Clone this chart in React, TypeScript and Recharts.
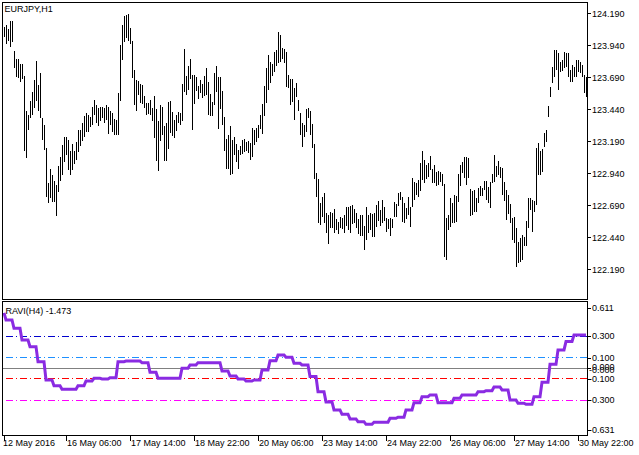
import React from 'react';
import { ComposedChart, Bar, Line, XAxis, YAxis, ReferenceLine } from 'recharts';

const FONT = '"Liberation Sans", Arial, sans-serif';

const symbolLabel = 'EURJPY,H1';
const indicatorLabel = 'RAVI(H4) -1.473';

// EURJPY H1 bar highs (12 May 2016 23:00 onward)
const highs = [
  124.084, 124.100, 124.069, 124.131, 124.131, 123.896, 123.834, 123.834, 123.795, 123.795,
  123.701, 123.428, 123.397, 123.506, 123.576, 123.670, 123.818, 123.631, 123.725, 123.373,
  123.319, 123.138, 122.866, 122.975, 122.928, 122.881, 122.850, 122.998, 123.068, 123.162,
  123.224, 123.224, 123.201, 123.115, 123.170, 123.115, 123.185, 123.279, 123.279, 123.335,
  123.389, 123.412, 123.397, 123.381, 123.459, 123.514, 123.475, 123.451, 123.459, 123.459,
  123.451, 123.475, 123.459, 123.428, 123.412, 123.366, 123.358, 123.569, 123.944, 124.100,
  124.170, 124.178, 124.186, 124.076, 123.975, 123.748, 123.670, 123.662, 123.639, 123.631,
  123.545, 123.491,
  123.491, 123.514, 123.451, 123.545, 123.444, 123.350, 123.475, 123.459, 123.311, 123.335,
  123.498, 123.506, 123.420, 123.358, 123.397, 123.420, 123.412, 123.639, 123.912, 123.701,
  123.779, 123.834, 123.709, 123.709, 123.693, 123.623, 123.670, 123.639, 123.701, 123.764,
  123.654, 123.561, 123.498, 123.725, 123.779, 123.693, 123.693, 123.584, 123.381, 123.209,
  123.240, 123.311, 123.201, 123.224, 123.170, 123.123, 123.154, 123.201, 123.209, 123.185,
  123.193, 123.178, 123.295, 123.279, 123.295, 123.319, 123.397, 123.483, 123.623, 123.764,
  123.865, 123.811, 123.795, 123.889, 123.904, 124.045, 124.022, 123.920, 123.912, 123.889,
  123.709, 123.678, 123.678, 123.608, 123.647,
  123.514, 123.412, 123.335, 123.319, 123.444, 123.451, 123.428, 123.326, 123.170, 122.943,
  122.897, 122.709, 122.756, 122.787, 122.631, 122.615, 122.639, 122.631, 122.662, 122.584,
  122.561, 122.600, 122.592, 122.615, 122.678, 122.678, 122.686, 122.694, 122.662, 122.631,
  122.584, 122.615, 122.615, 122.529, 122.678, 122.615, 122.631, 122.623, 122.631, 122.694,
  122.725, 122.654, 122.733, 122.678, 122.592, 122.584, 122.592, 122.584, 122.717, 122.701,
  122.787, 122.795, 122.756, 122.709, 122.670, 122.756, 122.678, 122.905, 122.873, 122.866,
  122.889, 123.022, 123.115, 123.045, 123.006, 123.022, 123.076, 122.975, 123.006, 122.951,
  122.959, 122.951, 122.936,
  122.858, 122.592, 122.615, 122.748, 122.709, 122.772, 122.764, 122.936, 123.006, 123.029,
  123.068, 123.068, 123.060, 122.819, 122.803, 122.811, 122.748, 122.826, 122.842, 122.826,
  122.881, 122.881, 122.834, 122.873, 122.936, 123.084, 122.998, 123.037, 122.990, 122.983,
  122.873, 122.811, 122.772, 122.701, 122.592, 122.600, 122.514, 122.405, 122.436, 122.459,
  122.443, 122.569, 122.748, 122.748, 122.733, 122.725, 123.139, 123.178, 123.115, 123.131,
  123.256, 123.279, 123.467, 123.615, 123.772, 123.904, 123.904, 123.881, 123.811, 123.826,
  123.889, 123.881, 123.881, 123.748, 123.787, 123.772, 123.826, 123.826, 123.811, 123.787,
  123.709, 123.693,
];

// EURJPY H1 bar lows
const lows = [
  124.006, 123.952, 123.975, 123.928, 123.967, 123.763, 123.693, 123.685, 123.654, 123.678,
  123.115, 123.060, 123.279, 123.373, 123.397, 123.451, 123.506, 123.428, 123.373, 123.201,
  123.123, 122.756, 122.710, 122.748, 122.717, 122.717, 122.607, 122.795, 122.881, 122.928,
  123.029, 123.084, 122.967, 122.928, 122.967, 123.014, 123.045, 123.107, 123.154, 123.193,
  123.224, 123.263, 123.263, 123.303, 123.319, 123.397, 123.335, 123.311, 123.350, 123.373,
  123.335, 123.358, 123.248, 123.319, 123.263, 123.240, 123.240, 123.240, 123.506, 123.826,
  123.967, 123.998, 123.975, 123.952, 123.685, 123.475, 123.428, 123.553, 123.491, 123.483,
  123.451, 123.397,
  123.405, 123.397, 123.350, 123.216, 123.037, 122.959, 123.193, 123.240, 123.037, 123.037,
  123.131, 123.256, 123.232, 123.216, 123.272, 123.335, 123.319, 123.350, 123.576, 123.553,
  123.592, 123.678, 123.279, 123.483, 123.584, 123.522, 123.569, 123.530, 123.545, 123.553,
  123.397, 123.389, 123.389, 123.475, 123.576, 123.287, 123.444, 123.319, 123.115, 122.975,
  122.975, 122.928, 122.936, 123.084, 123.029, 122.975, 123.084, 123.092, 123.107, 123.115,
  123.100, 123.045, 123.068, 123.162, 123.185, 123.216, 123.287, 123.248, 123.389, 123.491,
  123.592, 123.647, 123.701, 123.733, 123.779, 123.803, 123.811, 123.834, 123.803, 123.615,
  123.608, 123.475, 123.498, 123.358, 123.537,
  123.428, 123.240, 123.146, 123.224, 123.263, 123.373, 123.240, 123.138, 122.897, 122.756,
  122.553, 122.537, 122.600, 122.553, 122.475, 122.389, 122.514, 122.514, 122.475, 122.498,
  122.467, 122.514, 122.506, 122.475, 122.529, 122.498, 122.475, 122.545, 122.553, 122.514,
  122.467, 122.451, 122.451, 122.342, 122.420, 122.475, 122.498, 122.443, 122.443, 122.522,
  122.569, 122.529, 122.553, 122.569, 122.483, 122.506, 122.451, 122.514, 122.600, 122.600,
  122.686, 122.733, 122.561, 122.553, 122.584, 122.615, 122.522, 122.678, 122.733, 122.772,
  122.756, 122.803, 122.889, 122.866, 122.897, 122.912, 122.967, 122.866, 122.866, 122.842,
  122.850, 122.873, 122.842,
  122.287, 122.264, 122.498, 122.522, 122.553, 122.553, 122.561, 122.717, 122.842, 122.943,
  122.905, 122.850, 122.905, 122.607, 122.615, 122.639, 122.639, 122.709, 122.764, 122.764,
  122.811, 122.733, 122.709, 122.670, 122.866, 122.873, 122.912, 122.928, 122.905, 122.772,
  122.725, 122.576, 122.623, 122.553, 122.420, 122.397, 122.209, 122.240, 122.248, 122.264,
  122.373, 122.373, 122.514, 122.654, 122.483, 122.639, 122.694, 122.928, 122.928, 122.951,
  123.146, 123.185, 123.381, 123.537, 123.647, 123.693, 123.748, 123.592, 123.733, 123.740,
  123.764, 123.772, 123.693, 123.654, 123.654, 123.693, 123.693, 123.733, 123.725, 123.693,
  123.568, 123.537,
];

// RAVI values on H4 (one per 4 H1 bars; first block holds a single bar)
const raviH4 = [
  0.520, 0.453, 0.375, 0.265, 0.203, 0.062, -0.110, -0.163, -0.197, -0.197,
  -0.163, -0.119, -0.094, -0.100, -0.088, 0.062, 0.068, 0.068, 0.053, -0.038,
  -0.094, -0.094, -0.094, 0.000, 0.031, 0.053, 0.053, 0.053, -0.025, -0.072,
  -0.100, -0.119, -0.110, -0.016, 0.071, 0.125, 0.103, 0.047, 0.031, -0.078,
  -0.219, -0.315, -0.390, -0.431, -0.475, -0.500, -0.525, -0.506, -0.506, -0.469,
  -0.459, -0.390, -0.322, -0.266, -0.250, -0.322, -0.322, -0.281, -0.250, -0.250,
  -0.219, -0.210, -0.175, -0.203, -0.297, -0.328, -0.338, -0.266, -0.131, 0.037,
  0.172, 0.250, 0.312, 0.312,
];

const timeTickIndex = [0, 31, 63, 95, 127, 159, 191, 223, 255, 287];
const timeTickLabels = [
  '12 May 2016', '16 May 06:00', '17 May 14:00', '18 May 22:00', '20 May 06:00',
  '23 May 14:00', '24 May 22:00', '26 May 06:00', '27 May 14:00', '30 May 22:00',
];

const priceTicks = [124.19, 123.94, 123.69, 123.44, 123.19, 122.94, 122.69, 122.44, 122.19];
const priceDomain: [number, number] = [121.959, 124.271];

const raviTicks = [0.611, 0.3, 0.1, 0, -0.1, -0.3, -0.631];
const raviDomain: [number, number] = [-0.631, 0.611];

const levelValues = [0.3, 0.1, 0, -0.1, -0.3];
const levelColors = ['#0000CD', '#1E90FF', '#808080', '#FF0000', '#FF00FF'];
const levelDash = ['7 3 1 3', '7 3 1 3', undefined, '7 3 1 3', '7 3 1 3'];

const data = highs.map((h, i) => ({
  i,
  range: [lows[i], h],
  ravi: raviH4[i === 0 ? 0 : Math.ceil(i / 4)],
}));

const BarShape = (p: any) => {
  const x = Math.round(p.x + p.width / 2 - 0.5);
  const y = Math.min(p.y, p.y + p.height);
  const h = Math.max(Math.abs(p.height), 1);
  return <rect x={x} y={y} width={1} height={h} fill="#000" shapeRendering="crispEdges" />;
};

const PriceTick = (props: any) => {
  const { x, y, payload } = props;
  const ty = Math.round(y) + 0.5;
  return (
    <g>
      <line x1={x - 5} x2={x - 1} y1={ty} y2={ty} stroke="#000" shapeRendering="crispEdges" />
      <text x={x} y={y} dy="0.355em" fontSize={9} fontFamily={FONT} fill="#000" textAnchor="start">
        {Number(payload.value).toFixed(3)}
      </text>
    </g>
  );
};

const RaviTick = (props: any) => {
  const { x, y, payload } = props;
  const v = Number(payload.value);
  let ty = y;
  if (v > 0.6) ty = y + 5.2;
  if (v < -0.6) ty = y - 5.6;
  const lineY = Math.round(ty) + 0.5;
  const common = { fontSize: 9, fontFamily: FONT, fill: '#000', textAnchor: 'start' as const };
  return (
    <g>
      <line x1={x - 5} x2={x - 1} y1={lineY} y2={lineY} stroke="#000" shapeRendering="crispEdges" />
      {v === 0 ? (
        <>
          <text x={x} y={ty - 1.5} dy="0.355em" {...common}>0.000</text>
          <text x={x - 3} y={ty + 1.5} dy="0.355em" {...common}>-0.000</text>
        </>
      ) : (
        <text x={v < 0 ? x - 3 : x} y={ty} dy="0.355em" {...common}>
          {v.toFixed(3)}
        </text>
      )}
    </g>
  );
};

const TimeTick = (props: any) => {
  const { x, y, payload } = props;
  const idx = timeTickIndex.indexOf(Number(payload.value));
  if (idx < 0) return null;
  const tx = idx === 0 ? x - 1 : x + 1;
  return (
    <text x={tx} y={y} dy={5.4} fontSize={9} fontFamily={FONT} fill="#000" textAnchor="start">
      {timeTickLabels[idx]}
    </text>
  );
};

export default function App() {
  return (
    <div style={{ position: 'absolute', left: 0, top: 0, width: 639, height: 455, background: '#fff', overflow: 'hidden' }}>
      <div style={{ position: 'absolute', left: 0, top: 0 }}>
        <ComposedChart width={639} height={300} data={data} margin={{ top: 3, right: 0, bottom: 1, left: 3 }} barCategoryGap={0} barGap={0}>
          <XAxis dataKey="i" type="category" hide />
          <YAxis
            orientation="right"
            type="number"
            width={52}
            domain={priceDomain}
            ticks={priceTicks}
            interval={0}
            allowDataOverflow
            axisLine={false}
            tickLine={false}
            tickSize={4}
            tickMargin={1}
            tick={<PriceTick />}
          />
          <Bar dataKey="range" barSize={1} fill="#000" isAnimationActive={false} shape={BarShape} />
        </ComposedChart>
      </div>
      <div style={{ position: 'absolute', left: 0, top: 300 }}>
        <ComposedChart width={639} height={155} data={data} margin={{ top: 3.1, right: 0, bottom: 0, left: 3 }}>
          <XAxis
            dataKey="i"
            type="category"
            scale="band"
            height={19.4}
            ticks={timeTickIndex}
            interval={0}
            tickSize={5}
            tickMargin={0}
            axisLine={false}
            tickLine={{ stroke: '#000', shapeRendering: 'crispEdges' }}
            tick={<TimeTick />}
          />
          <YAxis
            orientation="right"
            type="number"
            width={52}
            domain={raviDomain}
            ticks={raviTicks}
            interval={0}
            allowDataOverflow
            axisLine={false}
            tickLine={false}
            tickSize={4}
            tickMargin={1}
            tick={<RaviTick />}
          />
          {levelValues.map((v, k) => (
            <ReferenceLine
              key={k}
              y={v}
              stroke={levelColors[k]}
              strokeWidth={1}
              strokeDasharray={levelDash[k]}
              shapeRendering="crispEdges"
            />
          ))}
          <Line
            dataKey="ravi"
            type="linear"
            stroke="#8A2BE2"
            strokeWidth={3}
            dot={false}
            activeDot={false}
            isAnimationActive={false}
          />
        </ComposedChart>
      </div>
      <svg width={639} height={455} style={{ position: 'absolute', left: 0, top: 0, pointerEvents: 'none' }}>
        <rect x={2.5} y={2.5} width={585} height={297} fill="none" stroke="#000" />
        <rect x={2.5} y={301.5} width={585} height={134} fill="none" stroke="#000" />
        <text x={4.5} y={12} fontSize={9} fontFamily={FONT} fill="#000">{symbolLabel}</text>
        <text x={5.5} y={314.3} fontSize={9} fontFamily={FONT} fill="#000">{indicatorLabel}</text>
      </svg>
    </div>
  );
}
